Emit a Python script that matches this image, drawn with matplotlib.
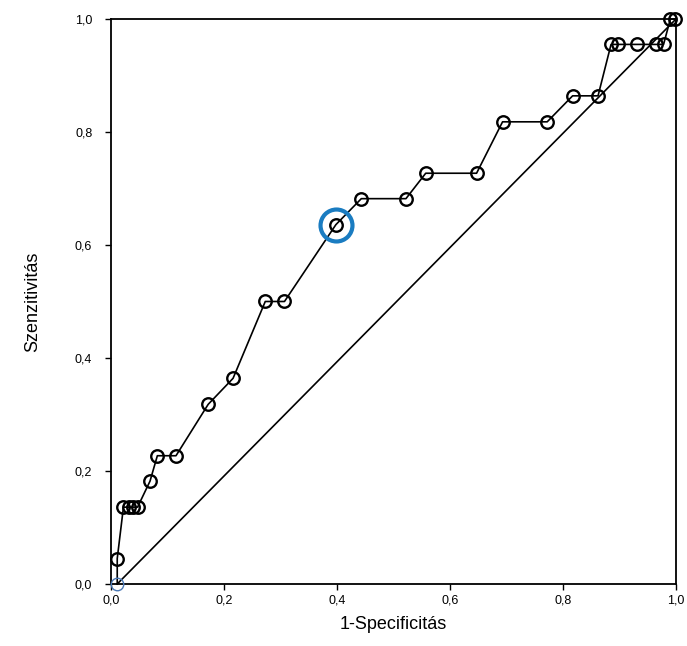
import matplotlib
matplotlib.use("Agg")
import matplotlib.pyplot as plt

# ROC görbe pontjai (leolvasva)
fpr = [0.011, 0.011, 0.022, 0.032, 0.039, 0.047, 0.069, 0.082, 0.115, 0.172,
       0.216, 0.273, 0.307, 0.398, 0.443, 0.522, 0.557, 0.647, 0.693, 0.772,
       0.817, 0.862, 0.885, 0.898, 0.931, 0.965, 0.978, 0.990, 0.998]
tpr = [0.000, 0.045, 0.136, 0.136, 0.136, 0.136, 0.182, 0.227, 0.227, 0.318,
       0.364, 0.500, 0.500, 0.636, 0.682, 0.682, 0.727, 0.727, 0.818, 0.818,
       0.864, 0.864, 0.955, 0.955, 0.955, 0.955, 0.955, 1.000, 1.000]
highlight_idx = 13

ref_x = [0.011, 1.0]
ref_y = [0.0, 1.0]

ticks = [0.0, 0.2, 0.4, 0.6, 0.8, 1.0]
tick_labels = ["0,0", "0,2", "0,4", "0,6", "0,8", "1,0"]

plt.rcParams['font.family'] = ['Liberation Sans', 'DejaVu Sans']

fig = plt.figure(figsize=(6.87, 6.46), dpi=100)
ax = fig.add_axes([0.1616, 0.096, 0.8224, 0.8746])

# átló
ax.plot(ref_x, ref_y, color='black', linewidth=1.2, clip_on=False, zorder=2)

# görbe
ax.plot(fpr, tpr, color='black', linewidth=1.2, clip_on=False, zorder=3)
ax.plot(fpr[1:], tpr[1:], linestyle='none', marker='o', markersize=9,
        markerfacecolor='none', markeredgecolor='black', markeredgewidth=1.7,
        clip_on=False, zorder=4)
ax.plot(fpr[0], tpr[0], linestyle='none', marker='o', markersize=9,
        markerfacecolor='none', markeredgecolor='#4a78b5', markeredgewidth=1.0,
        clip_on=False, zorder=4)

# kiemelt pont
ax.plot(fpr[highlight_idx], tpr[highlight_idx], linestyle='none', marker='o',
        markersize=23, markerfacecolor='none', markeredgecolor='#1a7cc1',
        markeredgewidth=3.0, clip_on=False, zorder=5)

ax.set_xlim(0, 1)
ax.set_ylim(0, 1)
ax.set_xticks(ticks)
ax.set_xticklabels(tick_labels)
ax.set_yticks(ticks)
ax.set_yticklabels(tick_labels)
ax.tick_params(direction='out', length=4.5, width=1, labelsize=9)
ax.tick_params(axis='x', pad=3)
ax.tick_params(axis='y', pad=9)

for sp in ax.spines.values():
    sp.set_linewidth(1.3)
    sp.set_color('black')

ax.set_xlabel("1-Specificitás", fontsize=13, labelpad=7)
ax.set_ylabel("Szenzitivitás", fontsize=13, labelpad=24)

fig.savefig("out.png", dpi=100)
